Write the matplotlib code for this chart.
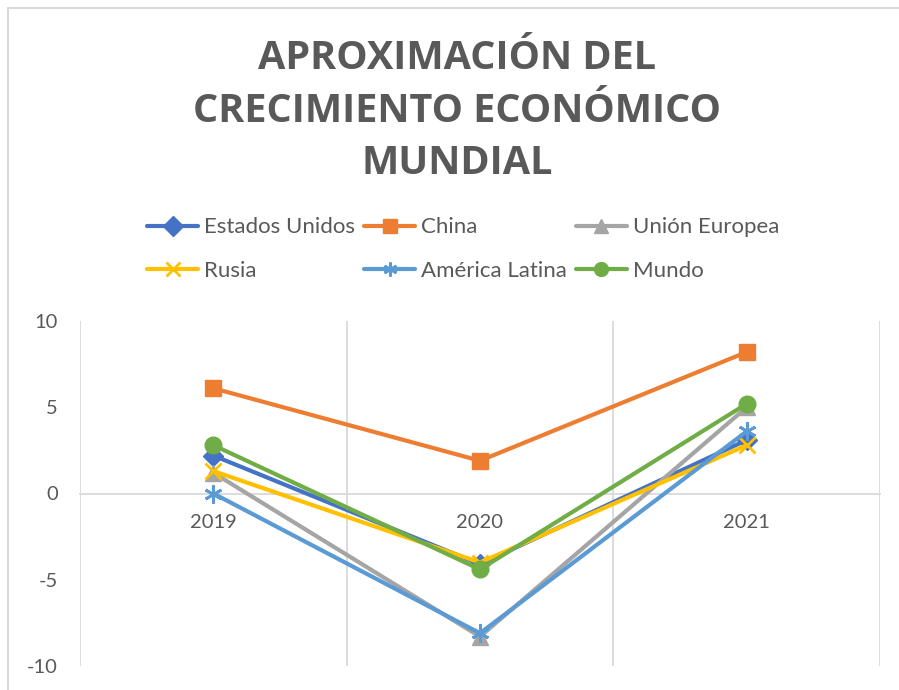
import matplotlib
matplotlib.use("Agg")
import matplotlib.pyplot as plt
from matplotlib.lines import Line2D

years = ["2019", "2020", "2021"]
series_names = ["Estados Unidos", "China", "Unión Europea", "Rusia", "América Latina", "Mundo"]
estados_unidos = [2.2, -4.1, 3.1]
china = [6.1, 1.9, 8.2]
union_europea = [1.2, -8.3, 5.0]
rusia = [1.3, -4.0, 2.8]
america_latina = [0.0, -8.1, 3.6]
mundo = [2.8, -4.4, 5.2]
yticks = [-10, -5, 0, 5, 10]

values = [estados_unidos, china, union_europea, rusia, america_latina, mundo]
colors = ["#4472C4", "#ED7D31", "#A5A5A5", "#FFC000", "#5B9BD5", "#70AD47"]
markers = ["D", "s", "^", "x", (6, 2, 0), "o"]
msizes = [10, 12, 11, 11, 13, 12]

text_color = "#595959"
grid_color = "#D9D9D9"
plt.rcParams['font.family'] = ['Lato', 'DejaVu Sans']

W, H = 899, 690
fig = plt.figure(figsize=(W / 100, H / 100), dpi=100)

# chart area border (top and left visible)
fig.add_artist(Line2D([8 / W, 1], [1 - 8 / H, 1 - 8 / H], color=grid_color, lw=1.5, transform=fig.transFigure))
fig.add_artist(Line2D([8 / W, 8 / W], [0, 1 - 8 / H], color=grid_color, lw=1.5, transform=fig.transFigure))

ax = fig.add_axes([80 / W, (H - 666) / H, 800 / W, (666 - 321) / H])
x = list(range(len(years)))
for name, vals, c, m, ms in zip(series_names, values, colors, markers, msizes):
    ax.plot(x, vals, color=c, lw=3, marker=m, markersize=ms,
            markeredgewidth=2 if m in ("x", (6, 2, 0)) else 1,
            markeredgecolor=c, markerfacecolor=c, label=name,
            solid_capstyle='round', solid_joinstyle='round')

ax.set_xlim(-0.5, len(years) - 0.5)
ax.set_ylim(-10, 10)
ax.set_yticks(yticks)
ax.set_yticklabels([str(v) for v in yticks])
ax.set_xticks(x)
ax.set_xticklabels(years)
for xv in [i - 0.5 for i in range(len(years) + 1)]:
    ax.axvline(xv, color=grid_color, lw=1.3, zorder=0)

for s in ["top", "right", "left"]:
    ax.spines[s].set_visible(False)
ax.spines["bottom"].set_position(("data", 0))
ax.spines["bottom"].set_color(grid_color)
ax.spines["bottom"].set_linewidth(1.3)
ax.spines["bottom"].set_zorder(0)
ax.tick_params(axis="x", length=0, pad=15, labelsize=14.5, labelcolor=text_color)
ax.tick_params(axis="y", length=0, pad=16, labelsize=14.5, labelcolor=text_color)
for lbl in ax.get_yticklabels():
    lbl.set_horizontalalignment("right")

fig.text(457 / W, 1 - 111 / H, "APROXIMACIÓN DEL\nCRECIMIENTO ECONÓMICO\nMUNDIAL",
         ha="center", va="center", fontsize=28.5, fontweight="bold",
         family=["Open Sans", "DejaVu Sans"], color=text_color, linespacing=1.45)

handles, labels = ax.get_legend_handles_labels()
order = [0, 3, 1, 4, 2, 5]  # row-major layout in 3 columns
leg = fig.legend([handles[i] for i in order], [labels[i] for i in order], ncol=3,
                 loc="center left", bbox_to_anchor=(147 / W, 1 - 249 / H), frameon=False,
                 fontsize=16, handlelength=2.3, handletextpad=0.27,
                 columnspacing=0.4, labelspacing=1.05, borderpad=0, borderaxespad=0)
for t in leg.get_texts():
    t.set_color(text_color)
for h in leg.legend_handles:
    h.set_markersize(10)

fig.savefig("out.png", dpi=100)
